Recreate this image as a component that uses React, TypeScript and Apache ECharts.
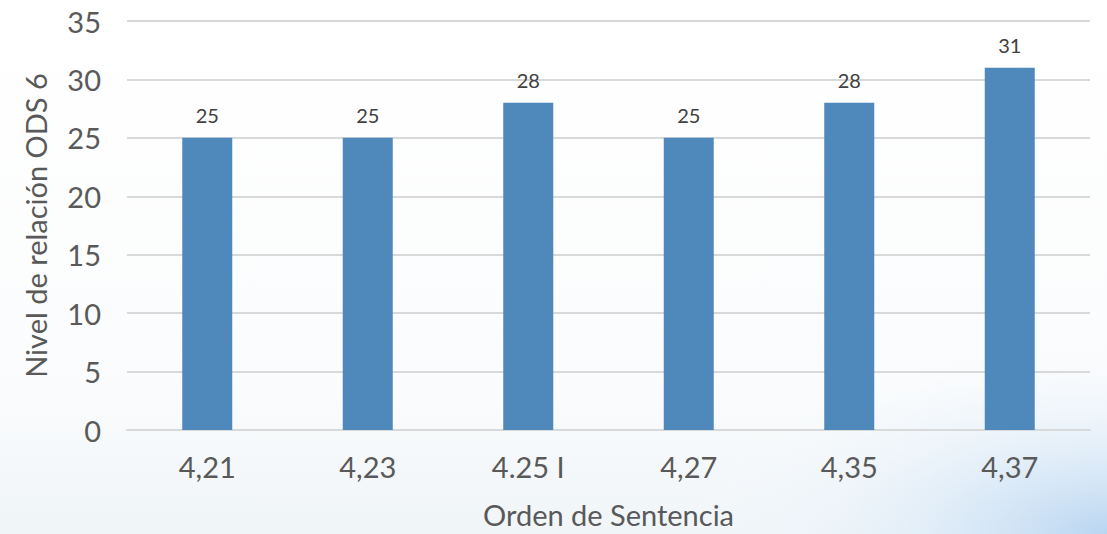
import React, { useEffect, useRef } from "react";
import * as echarts from "echarts";

const categories = ["4,21", "4,23", "4.25 I", "4,27", "4,35", "4,37"];
const values = [25, 25, 28, 25, 28, 31];
const yTicks = [0, 5, 10, 15, 20, 25, 30, 35];

export default function App() {
  const ref = useRef<HTMLDivElement>(null);
  useEffect(() => {
    if (!ref.current) return;
    const chart = echarts.init(ref.current, null, { renderer: "svg" });
    const font = "Lato, 'Open Sans', sans-serif";
    chart.setOption({
      animation: false,
      backgroundColor: "#ffffff",
      graphic: [
        {
          type: "rect",
          silent: true,
          z: -10,
          shape: { x: 0, y: 0, width: 1107, height: 534 },
          style: {
            fill: new echarts.graphic.RadialGradient(1, 1, 0.4, [
              { offset: 0, color: "rgba(175,208,240,0.85)" },
              { offset: 0.5, color: "rgba(220,235,249,0.45)" },
              { offset: 1, color: "rgba(255,255,255,0)" },
            ]),
          },
        },
        {
          type: "rect",
          silent: true,
          z: -11,
          shape: { x: 0, y: 0, width: 1107, height: 534 },
          style: {
            fill: new echarts.graphic.LinearGradient(0, 0, 0, 1, [
              { offset: 0, color: "#ffffff" },
              { offset: 0.7, color: "#fbfcfd" },
              { offset: 1, color: "#f0f5f8" },
            ]),
          },
        },
      ],
      grid: { left: 127, right: 17, top: 21, bottom: 104, containLabel: false },
      xAxis: {
        type: "category",
        data: categories,
        name: "Orden de Sentencia",
        nameLocation: "middle",
        nameGap: 70,
        nameTextStyle: { color: "#595959", fontSize: 29, fontFamily: font },
        axisLine: { show: true, lineStyle: { color: "#d9d9d9", width: 2 } },
        axisTick: { show: false },
        axisLabel: { color: "#595959", fontSize: 29, fontFamily: font, margin: 22 },
      },
      yAxis: {
        type: "value",
        min: yTicks[0],
        max: yTicks[yTicks.length - 1],
        interval: 5,
        name: "Nivel de relación ODS 6",
        nameLocation: "middle",
        nameGap: 77,
        nameRotate: 90,
        nameTextStyle: { color: "#595959", fontSize: 29, fontFamily: font },
        axisLine: { show: false },
        axisTick: { show: false },
        axisLabel: { color: "#595959", fontSize: 29, fontFamily: font, margin: 26 },
        splitLine: { lineStyle: { color: "#d9d9d9", width: 2 } },
      },
      series: [
        {
          type: "bar",
          data: values,
          barWidth: 50,
          itemStyle: { color: "#4f88bb" },
          label: {
            show: true,
            position: "top",
            distance: 13,
            color: "#404040",
            fontSize: 20,
            fontFamily: font,
          },
        },
      ],
    });
    return () => chart.dispose();
  }, []);
  return (
    <div
      ref={ref}
      style={{ position: "fixed", left: 0, top: 0, width: 1107, height: 534 }}
    />
  );
}
